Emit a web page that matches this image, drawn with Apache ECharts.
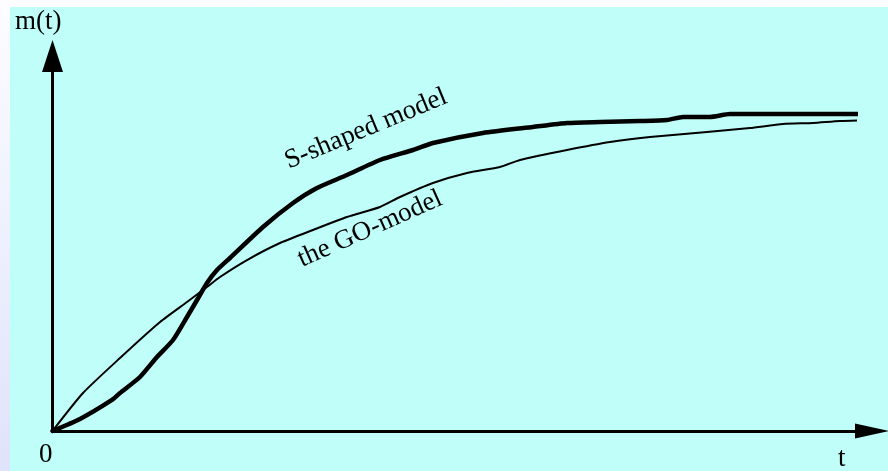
<!DOCTYPE html>
<html>
<head>
<meta charset="utf-8">
<script src="https://cdn.jsdelivr.net/npm/echarts@6/dist/echarts.min.js"></script>
<style>
  html, body { margin: 0; padding: 0; }
  #chart {
    width: 888px; height: 471px;
    background: linear-gradient(to bottom, #fdfdff 0%, #dfe3fb 100%);
  }
</style>
</head>
<body>
<div id="chart"></div>
<script>
// S-shaped growth model: time points and mean value function m(t)
const tS = [0, 3.43, 7.41, 8.41, 10.90, 13.02, 15.02, 16.76, 18.01, 19.25, 20.50, 22.12, 26.23, 29.97, 32.96,
            36.70, 40.81, 44.92, 47.41, 53.64, 59.88, 64.11, 68.22, 73.21, 76.57, 78.57, 81.93, 84.42, 101.0];
const mS = [0, 3.34, 8.64, 10.58, 15.04, 20.61, 25.35, 31.75, 36.49, 41.23, 44.85, 48.19, 56.82, 63.51, 67.69,
            71.31, 75.49, 78.27, 80.22, 83.01, 84.68, 85.79, 86.07, 86.35, 86.63, 87.47, 87.47, 88.30, 88.30];

// Goel-Okumoto (GO) model
const tGO = [0, 3.80, 8.41, 13.40, 16.76, 19.25, 20.87, 24.24, 28.35, 32.46, 36.70, 40.81, 43.30, 47.41, 51.65,
             55.76, 58.26, 64.11, 69.47, 74.45, 81.56, 86.92, 91.03, 94.77, 98.13, 102.74];
const mGO = [0, 10.58, 20.33, 30.36, 35.93, 40.11, 42.90, 47.63, 52.37, 55.99, 59.61, 62.40, 65.18, 69.08, 71.87,
             73.54, 75.49, 78.27, 80.50, 81.89, 83.29, 84.40, 85.52, 85.79, 86.35, 86.63];

const seriesNames = ['S-shaped model', 'the GO-model'];
const axisNames = { y: 'm(t)', x: 't', origin: '0' };

const pairs = (xs, ys) => xs.map((x, i) => [x, ys[i]]);
const serif = "'Liberation Serif', 'Times New Roman', serif";
const font = '27px ' + serif;

const chart = echarts.init(document.getElementById('chart'), null, { renderer: 'canvas' });

const axisCommon = {
  type: 'value',
  min: 0,
  max: 100,
  axisTick: { show: false },
  axisLabel: { show: false },
  splitLine: { show: false },
};

chart.setOption({
  backgroundColor: 'transparent',
  animation: false,
  grid: { left: 52.5, top: 72, right: 33, bottom: 40 },
  xAxis: Object.assign({}, axisCommon, {
    axisLine: {
      show: true,
      lineStyle: { color: '#000', width: 3 },
      symbol: ['none', 'triangle'],
      symbolSize: [15, 34],
      symbolOffset: [0, 17]
    }
  }),
  yAxis: Object.assign({}, axisCommon, {
    axisLine: {
      show: true,
      lineStyle: { color: '#000', width: 3 },
      symbol: ['none', 'triangle'],
      symbolSize: [21, 32],
      symbolOffset: [0, 16]
    }
  }),
  graphic: [
    {
      type: 'rect', z: -10, silent: true,
      shape: { x: 10, y: 7, width: 878, height: 464 },
      style: { fill: '#c0fff9' }
    },
    {
      type: 'text', left: 15, top: 8,
      style: { text: axisNames.y, font: font, fill: '#000' }
    },
    {
      type: 'text', left: 39, top: 441,
      style: { text: axisNames.origin, font: font, fill: '#000' }
    },
    {
      type: 'text', left: 838, top: 445,
      style: { text: axisNames.x, font: font, fill: '#000' }
    },
    {
      type: 'text', x: 366, y: 129, rotation: 22.5 * Math.PI / 180,
      style: { text: seriesNames[0], font: font, fill: '#000', align: 'center', verticalAlign: 'middle' }
    },
    {
      type: 'text', x: 370, y: 229, rotation: 24 * Math.PI / 180,
      style: { text: seriesNames[1], font: font, fill: '#000', align: 'center', verticalAlign: 'middle' }
    }
  ],
  series: [
    {
      name: seriesNames[0], type: 'line', data: pairs(tS, mS),
      showSymbol: false, smooth: 0.2, clip: false,
      lineStyle: { color: '#000', width: 4.5, cap: 'round', join: 'round' }
    },
    {
      name: seriesNames[1], type: 'line', data: pairs(tGO, mGO),
      showSymbol: false, smooth: 0.2, clip: false,
      lineStyle: { color: '#000', width: 2, cap: 'round', join: 'round' }
    }
  ]
});
</script>
</body>
</html>
